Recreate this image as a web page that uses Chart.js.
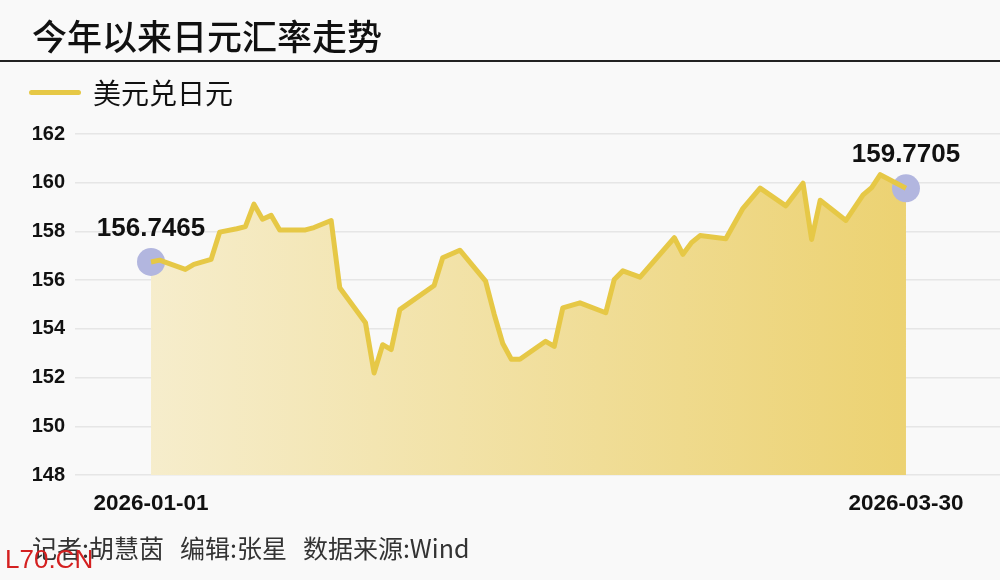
<!DOCTYPE html>
<html lang="zh-CN">
<head>
  <meta charset="UTF-8" />
  <title>今年以来日元汇率走势</title>
  <script src="https://cdn.jsdelivr.net/npm/chart.js"></script>
  <style>
    body { margin: 0; background: #f9f9f9; }
    #wrap { position: relative; width: 1000px; height: 580px; overflow: hidden; font-family: "Noto Sans CJK SC", sans-serif; }
    #wrap canvas { position: absolute; left: 0; top: 0; }
    .title { position: absolute; left: 32px; top: 17px; font-size: 35px; font-weight: 500; color: #111; line-height: 1; }
    .rule { position: absolute; left: 0; top: 60px; width: 1000px; height: 2px; background: #222; }
    .legend { position: absolute; left: 29px; top: 74px; display: flex; align-items: center; font-size: 28px; color: #111; line-height: 36px; }
    .legend i { display: inline-block; width: 52px; height: 5px; border-radius: 3px; background: #e6c846; margin-right: 12px; }
    .footer { position: absolute; left: 32px; top: 531px; font-size: 25px; color: #333; line-height: 32px; }
    .footer span { margin-right: 16px; }
    .mark { position: absolute; left: 5px; top: 544px; font-family: "Liberation Sans", Arial, sans-serif; font-size: 26px; color: #d42020; line-height: 30px; }
  </style>
</head>
<body>
  <div id="wrap">
    <canvas id="chart" width="1000" height="580"></canvas>
    <div class="title">今年以来日元汇率走势</div>
    <div class="rule"></div>
    <div class="legend"><i></i>美元兑日元</div>
    <div class="footer"><span>记者:胡慧茵</span><span>编辑:张星</span><span>数据来源:Wind</span></div>
    <div class="mark">L70.CN</div>
  </div>
  <script>
    // 日期偏移(自 2026-01-01 起的天数)与美元兑日元
    const days = [0,1,4,5,7,8,10,11,12,13,14,15,18,19,21,22,25,26,27,28,29,33,34,36,39,40,41,42,43,46,47,48,50,53,54,55,57,61,62,63,64,67,69,71,74,76,77,78,81,83,84,85,88];
    const rates = [156.7465,156.82,156.44,156.65,156.85,157.97,158.11,158.2,159.12,158.5,158.66,158.06,158.06,158.16,158.45,155.69,154.25,152.19,153.35,153.15,154.79,155.78,156.92,157.23,155.96,154.6,153.4,152.75,152.75,153.49,153.28,154.86,155.07,154.66,156.03,156.38,156.12,157.74,157.06,157.54,157.83,157.7,158.95,159.78,159.05,159.98,157.67,159.28,158.45,159.5,159.8,160.33,159.7705];
    const xTickLabels = ['2026-01-01', '2026-03-30'];
    const yTicks = [148, 150, 152, 154, 156, 158, 160, 162];

    const numFont = '"Liberation Sans", Arial, sans-serif';
    const lineData = days.map((d, i) => ({ x: d, y: rates[i] }));
    const last = days.length - 1;
    const endPoints = [lineData[0], lineData[last]];

    // 首尾数值标注 + 首尾日期
    const endLabels = {
      id: 'endLabels',
      afterDatasetsDraw(chart) {
        const meta = chart.getDatasetMeta(1);
        const ctx = chart.ctx;
        const xs = chart.scales.x;
        ctx.save();
        ctx.fillStyle = '#111';
        ctx.textAlign = 'center';
        ctx.textBaseline = 'middle';
        ctx.font = 'bold 26px ' + numFont;
        meta.data.forEach((pt, i) => {
          ctx.fillText(endPoints[i].y.toFixed(4), pt.x, pt.y - 33);
        });
        ctx.font = 'bold 22.5px ' + numFont;
        [days[0], days[last]].forEach((d, i) => {
          ctx.fillText(xTickLabels[i], xs.getPixelForValue(d), chart.chartArea.bottom + 29);
        });
        ctx.restore();
      }
    };

    new Chart(document.getElementById('chart'), {
      type: 'line',
      data: {
        datasets: [{
          data: lineData,
          borderColor: '#e6c846',
          borderWidth: 5,
          borderJoinStyle: 'round',
          pointRadius: 0,
          tension: 0,
          fill: 'start',
          order: 1,
          backgroundColor(c) {
            const a = c.chart.chartArea;
            if (!a) return 'rgba(240,220,140,0.5)';
            const g = c.chart.ctx.createLinearGradient(a.left + 76, 0, a.left + 830, 0);
            g.addColorStop(0, '#f6edcc');
            g.addColorStop(1, '#ecd272');
            return g;
          }
        }, {
          data: endPoints,
          showLine: false,
          pointRadius: 14,
          pointHoverRadius: 14,
          pointBorderWidth: 0,
          pointBackgroundColor: '#b2b6df',
          order: 2
        }]
      },
      options: {
        responsive: false,
        animation: false,
        layout: { autoPadding: false, padding: { top: 134, right: 0, left: 0, bottom: 0 } },
        plugins: {
          legend: { display: false },
          tooltip: { enabled: false },
          filler: { drawTime: 'beforeDatasetsDraw' }
        },
        scales: {
          x: {
            type: 'linear',
            min: -8.86,
            max: 98.96,
            grid: { display: false },
            border: { display: false },
            afterFit(s) { s.height = 105; },
            ticks: { display: false }
          },
          y: {
            min: yTicks[0],
            max: yTicks[yTicks.length - 1],
            afterFit(s) { s.width = 75; },
            afterBuildTicks(s) { s.ticks = yTicks.map(v => ({ value: v })); },
            grid: { color: '#e6e6e6', lineWidth: 1.5, drawTicks: false },
            border: { display: false },
            ticks: {
              padding: 10,
              color: '#111',
              font: { family: numFont, size: 20, weight: 'bold' }
            }
          }
        }
      },
      plugins: [endLabels]
    });
  </script>
</body>
</html>
